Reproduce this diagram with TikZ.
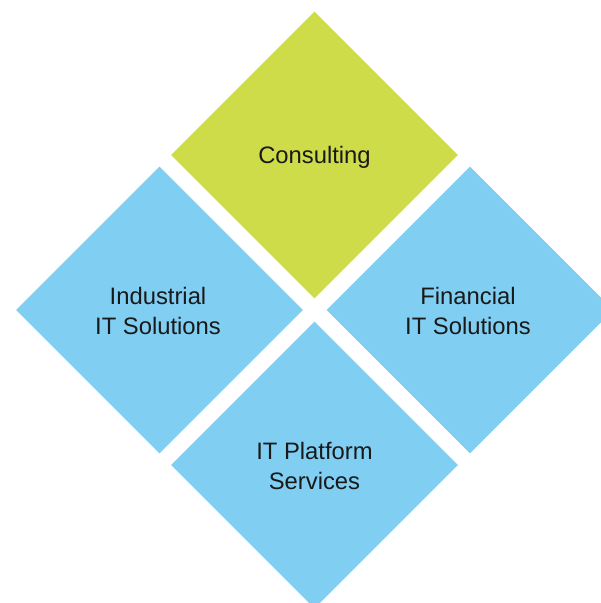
\documentclass[tikz,border=0pt]{standalone}
\usepackage{fontspec}
\setmainfont{Liberation Sans}
\usetikzlibrary{shapes.geometric}
\definecolor{lime}{HTML}{CEDC4A}
\definecolor{sky}{HTML}{80CEF2}
\tikzset{
  tile/.style={shape=diamond, minimum width=287pt, minimum height=287pt, inner sep=0pt},
  tilelabel/.style={inner sep=0pt, align=center, font=\fontsize{23.8}{30}\selectfont, text=black!90}
}
\begin{document}
\begin{tikzpicture}[x=1pt,y=1pt]
\useasboundingbox (0,0) rectangle (601,603);
\clip (0,0) rectangle (601,603);
\node[tile, fill=lime] (cons) at (314.5,448) {};
\node[tile, fill=sky] (ind) at (159.5,293) {};
\node[tile, fill=sky] (fin) at (470,293) {};
\node[tile, fill=sky] (plat) at (314.5,138) {};
\node[tilelabel] (consT) at ([yshift=-2pt]cons.center) {Consulting};
\node[tilelabel] (indT) at ([xshift=-1.5pt,yshift=-1pt]ind.center) {Industrial\\IT Solutions};
\node[tilelabel] (finT) at ([xshift=-2pt,yshift=-1pt]fin.center) {Financial\\IT Solutions};
\node[tilelabel] (platT) at ([yshift=-1pt]plat.center) {IT Platform\\Services};
\end{tikzpicture}
\end{document}
